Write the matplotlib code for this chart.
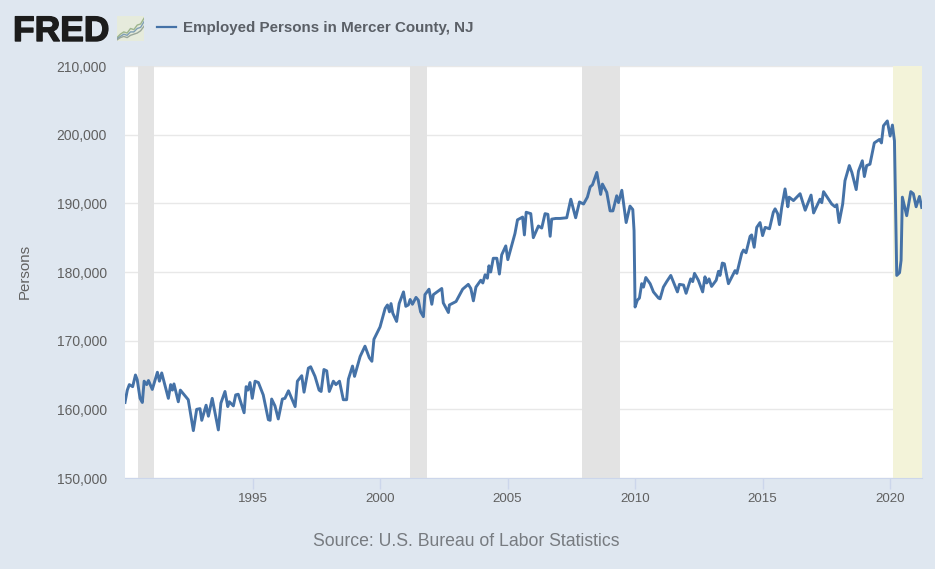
import matplotlib
matplotlib.use("Agg")
import matplotlib.pyplot as plt
import matplotlib.patheffects as pe
from matplotlib.patches import Rectangle
from matplotlib.ticker import FuncFormatter

plt.rcParams['font.family'] = ['Liberation Sans', 'DejaVu Sans']

# decimal year, thousands of persons
years_90s = [1990.00, 1990.09, 1990.17, 1990.30, 1990.41, 1990.48, 1990.59, 1990.68, 1990.75, 1990.85,
             1990.92, 1991.07, 1991.27, 1991.35, 1991.44, 1991.70, 1991.79, 1991.86, 1991.92, 1992.09,
             1992.17, 1992.35, 1992.48, 1992.68, 1992.81, 1992.94, 1993.01, 1993.18, 1993.27, 1993.42,
             1993.66, 1993.76, 1993.92, 1994.03, 1994.09, 1994.25, 1994.34, 1994.44, 1994.67, 1994.75,
             1994.82, 1994.90, 1994.99, 1995.10, 1995.23, 1995.42, 1995.62, 1995.69, 1995.75, 1995.88,
             1996.01, 1996.17, 1996.27, 1996.41, 1996.67, 1996.76, 1996.93, 1997.02, 1997.19, 1997.28,
             1997.45, 1997.61, 1997.69, 1997.80, 1997.91, 1998.01, 1998.17, 1998.27, 1998.41, 1998.56,
             1998.69, 1998.76, 1998.92, 1999.00, 1999.22, 1999.41, 1999.58, 1999.68, 1999.76]
values_90s = [161.0, 162.8, 163.6, 163.3, 165.0, 164.3, 161.6, 161.0, 164.1, 163.6,
              164.2, 162.9, 165.4, 164.1, 165.3, 161.6, 163.6, 162.8, 163.7, 161.1,
              162.8, 162.0, 161.4, 156.9, 160.0, 160.1, 158.4, 160.6, 159.0, 161.6,
              157.0, 160.9, 162.6, 160.4, 161.1, 160.5, 162.1, 162.2, 159.5, 163.3,
              162.8, 163.9, 161.6, 164.1, 163.9, 162.1, 158.5, 158.4, 161.5, 160.5,
              158.6, 161.5, 161.6, 162.7, 160.4, 164.1, 164.9, 162.5, 166.0, 166.2,
              164.8, 162.8, 162.6, 165.8, 165.6, 162.6, 164.1, 163.6, 164.1, 161.4,
              161.4, 164.4, 166.3, 164.8, 167.7, 169.2, 167.5, 167.0, 170.2]

years_00s = [2000.00, 2000.20, 2000.29, 2000.37, 2000.43, 2000.50, 2000.65, 2000.75, 2000.92, 2001.01,
             2001.11, 2001.18, 2001.27, 2001.41, 2001.50, 2001.59, 2001.70, 2001.76, 2001.92, 2002.03,
             2002.09, 2002.42, 2002.48, 2002.68, 2002.72, 2002.98, 2003.24, 2003.46, 2003.56, 2003.66,
             2003.76, 2003.95, 2004.03, 2004.12, 2004.21, 2004.27, 2004.34, 2004.44, 2004.58, 2004.68,
             2004.77, 2004.93, 2005.01, 2005.29, 2005.39, 2005.59, 2005.66, 2005.73, 2005.91, 2006.01,
             2006.21, 2006.34, 2006.47, 2006.58, 2006.67, 2006.73, 2006.89, 2007.06, 2007.32, 2007.48,
             2007.67, 2007.82, 2007.98, 2008.13, 2008.24, 2008.33, 2008.50, 2008.65, 2008.72, 2008.89,
             2009.02, 2009.13, 2009.28, 2009.35, 2009.48, 2009.65, 2009.80, 2009.91, 2009.96]
values_00s = [172.0, 174.7, 175.2, 174.2, 175.4, 174.0, 172.8, 175.4, 177.1, 175.0,
              175.2, 176.0, 175.3, 176.3, 175.9, 174.2, 173.5, 176.7, 177.5, 175.3,
              176.7, 177.6, 175.5, 174.1, 175.2, 175.7, 177.5, 178.2, 177.6, 175.8,
              177.8, 178.8, 178.4, 179.6, 179.1, 180.9, 180.0, 182.0, 182.0, 179.7,
              182.5, 183.8, 181.8, 185.6, 187.6, 188.0, 185.4, 188.7, 188.5, 185.0,
              186.7, 186.4, 188.5, 188.4, 185.2, 187.7, 187.8, 187.8, 187.9, 190.6,
              187.9, 190.2, 189.9, 190.9, 192.4, 192.7, 194.5, 191.3, 192.8, 191.6,
              188.9, 188.9, 191.1, 190.1, 191.9, 187.2, 189.6, 189.1, 186.0]

years_10s = [2010.00, 2010.09, 2010.17, 2010.26, 2010.33, 2010.42, 2010.59, 2010.72, 2010.92, 2010.98,
             2011.11, 2011.24, 2011.40, 2011.66, 2011.74, 2011.90, 2012.00, 2012.18, 2012.26, 2012.33,
             2012.48, 2012.65, 2012.74, 2012.81, 2012.90, 2013.00, 2013.18, 2013.27, 2013.33, 2013.42,
             2013.50, 2013.66, 2013.92, 2013.99, 2014.18, 2014.25, 2014.35, 2014.51, 2014.57, 2014.67,
             2014.77, 2014.90, 2015.00, 2015.10, 2015.27, 2015.42, 2015.49, 2015.59, 2015.66, 2015.75,
             2015.88, 2015.99, 2016.04, 2016.21, 2016.34, 2016.47, 2016.67, 2016.90, 2017.00, 2017.25,
             2017.32, 2017.39, 2017.71, 2017.84, 2017.91, 2018.00, 2018.14, 2018.23, 2018.40, 2018.50,
             2018.67, 2018.76, 2018.91, 2018.99, 2019.08, 2019.21, 2019.38, 2019.58, 2019.66, 2019.74,
             2019.89, 2020.00, 2020.09, 2020.17, 2020.26, 2020.37, 2020.43, 2020.48, 2020.65, 2020.81,
             2020.91, 2021.02, 2021.15, 2021.24]
values_10s = [174.9, 175.9, 176.2, 178.3, 177.8, 179.2, 178.3, 177.1, 176.2, 176.1,
              177.8, 178.6, 179.5, 177.1, 178.2, 178.1, 176.9, 179.0, 178.6, 179.8,
              178.8, 177.1, 179.3, 178.4, 179.0, 177.9, 178.8, 180.1, 179.5, 181.3,
              181.2, 178.3, 180.2, 179.8, 182.7, 183.2, 182.8, 185.2, 185.4, 183.6,
              186.5, 187.2, 185.3, 186.5, 186.3, 188.7, 189.2, 188.5, 186.9, 189.4,
              192.1, 189.5, 190.9, 190.4, 190.9, 191.4, 189.0, 191.2, 188.6, 190.6,
              190.1, 191.7, 189.9, 189.5, 189.8, 187.2, 189.9, 193.3, 195.5, 194.5,
              192.0, 194.7, 196.2, 193.9, 195.5, 195.7, 198.8, 199.3, 198.8, 201.3,
              202.0, 199.8, 201.4, 199.1, 179.5, 179.9, 181.7, 190.9, 188.2, 191.7,
              191.4, 189.5, 191.0, 189.4]

recession_starts = [1990.5, 2001.17, 2007.92]
recession_ends = [1991.13, 2001.83, 2009.42]
covid_start = 2020.1
x_ticks = [1995, 2000, 2005, 2010, 2015, 2020]
y_ticks = [150, 160, 170, 180, 190, 200, 210]

# little chart in the logo, in icon units
icon_x = [0, 3, 6, 9, 12, 15, 18, 21, 24]
icon_green = [3, 6, 8, 7, 11, 10, 14, 15, 20]
icon_blue = [2, 4, 6, 5, 8, 8, 11, 12, 17]
icon_grey = [1, 3, 4, 3, 5, 6, 7, 9, 13]

W, H = 935, 569
BG = "#dfe7f0"
fig = plt.figure(figsize=(W / 100, H / 100), dpi=100, facecolor=BG)
ax = fig.add_axes([125 / W, 1 - 478 / H, (922 - 125) / W, (478 - 66) / H])
ax.set_xlim(1990.0, 2021.25)
ax.set_ylim(150, 210)
ax.set_axisbelow(True)

for a, b in zip(recession_starts, recession_ends):
    ax.axvspan(a, b, color="#e3e3e3", lw=0, zorder=1)
ax.axvspan(covid_start, 2021.25, color="#f3f3d9", lw=0, zorder=1)
ax.grid(axis="y", color="#e8e8e8", lw=1, zorder=2)

ax.plot(years_90s + years_00s + years_10s, values_90s + values_00s + values_10s,
        color="#4572a7", lw=2.1, solid_joinstyle="round", zorder=3)

for s in ["top", "left", "right"]:
    ax.spines[s].set_visible(False)
ax.spines["bottom"].set_color("#ccd6eb")
ax.set_xticks(x_ticks)
ax.set_yticks(y_ticks)
ax.yaxis.set_major_formatter(FuncFormatter(lambda v, pos: "{:,.0f}".format(v * 1000)))
ax.tick_params(axis="x", length=8, width=1, color="#ccd6eb", labelcolor="#606060", labelsize=9.6, pad=2.5)
ax.tick_params(axis="y", length=0, labelcolor="#606060", labelsize=10, pad=13)
ax.set_ylabel("Persons", color="#606060", fontsize=10.8)
ax.yaxis.set_label_coords((32 - 125) / (922 - 125), (478 - 271) / (478 - 66))

# header
fig.text(13 / W, 1 - 41 / H, "FRED", fontsize=25.5, fontweight="bold", color="#1c1c1c",
         path_effects=[pe.withStroke(linewidth=1.0, foreground="#1c1c1c")])
icon = fig.add_axes([117 / W, 1 - 41 / H, 27 / W, 25 / H])
icon.set_xlim(0, 24)
icon.set_ylim(0, 22)
icon.axis("off")
icon.add_patch(Rectangle((0, 0), 24, 22, color="#e6ebdc", lw=0))
icon.plot(icon_x, icon_green, color="#9db58c", lw=1)
icon.plot(icon_x, icon_blue, color="#7f9fb5", lw=1)
icon.plot(icon_x, icon_grey, color="#9aa79a", lw=1)

fig.add_artist(plt.Line2D([157 / W, 176 / W], [1 - 27 / H, 1 - 27 / H], color="#4572a7", lw=1.6))
fig.text(183 / W, 1 - 28 / H, "Employed Persons in Mercer County, NJ", fontsize=10.9, fontweight="bold",
         color="#5a5f66", va="center")
fig.text(466.5 / W, 1 - 541.5 / H, "Source: U.S. Bureau of Labor Statistics", fontsize=12.7, color="#777b80",
         ha="center", va="center")

fig.savefig("out.png", dpi=100, facecolor=BG)
